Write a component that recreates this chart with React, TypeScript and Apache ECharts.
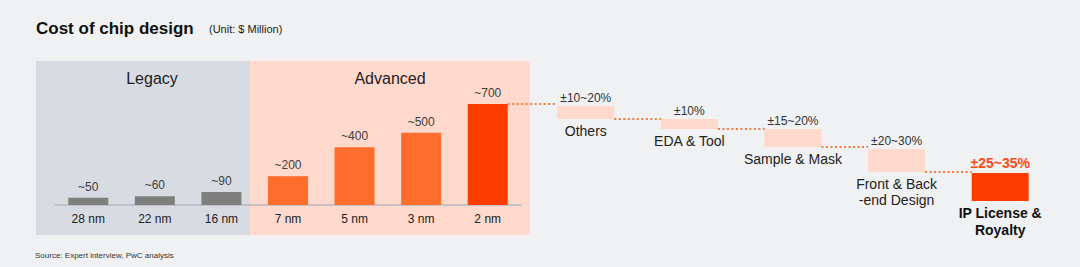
import React, { useEffect, useRef } from "react";
import * as echarts from "echarts";

// ---- data ----
const categories = ["28 nm", "22 nm", "16 nm", "7 nm", "5 nm", "3 nm", "2 nm"];
const costs = [50, 60, 90, 200, 400, 500, 700];
const costLabels = ["~50", "~60", "~90", "~200", "~400", "~500", "~700"];
const legacyCount = 3;

const wfNames = ["Others", "EDA & Tool", "Sample & Mask", "Front & Back\n-end Design", "IP License &\nRoyalty"];
const wfShares = ["±10~20%", "±10%", "±15~20%", "±20~30%", "±25~35%"];
const wfTop = [686, 596, 527, 388, 222];
const wfBottom = [596, 527, 402, 229, 28];

const title = "Cost of chip design";
const unit = "(Unit: $ Million)";
const source = "Source: Expert interview, PwC analysis";

// ---- styles ----
const BG = "#f0f1f3";
const LEGACY_BG = "#d8dbe2";
const ADV_BG = "#fed9cc";
const GRAY = "#7f7f7f";
const ORANGE = "#ff6d2d";
const RED = "#ff3c00";
const DOT = "#f47a3f";
const FONT = "'Liberation Sans', Arial, sans-serif";
const WF_BAR = 57;

export default function App() {
  const ref = useRef<HTMLDivElement>(null);
  useEffect(() => {
    if (!ref.current) return;
    const chart = echarts.init(ref.current, undefined, { renderer: "svg" });
    const last = costs.length - 1;
    const connectorLevels = [costs[last], ...wfBottom.slice(0, wfBottom.length - 1)];

    chart.setOption({
      animation: false,
      backgroundColor: BG,
      textStyle: { fontFamily: FONT },
      grid: [
        { left: 55, right: 559, top: 104, bottom: 62, containLabel: false },
        { left: 534, right: 28, top: 104, bottom: 62, containLabel: false },
      ],
      xAxis: [
        {
          type: "category",
          gridIndex: 0,
          data: categories,
          axisLine: { lineStyle: { color: "#b6bac4", width: 1.5 } },
          axisTick: { show: false },
          axisLabel: { fontSize: 12, color: "#222", margin: 8, fontFamily: FONT },
        },
        {
          type: "category",
          gridIndex: 1,
          data: wfNames,
          axisLine: { show: false },
          axisTick: { show: false },
          axisLabel: { show: false },
        },
      ],
      yAxis: [
        { type: "value", gridIndex: 0, min: 0, max: 700, show: false, splitLine: { show: false } },
        { type: "value", gridIndex: 1, min: 0, max: 700, show: false, splitLine: { show: false } },
      ],
      graphic: [
        { type: "rect", z: -10, shape: { x: 36, y: 61, width: 214, height: 174 }, style: { fill: LEGACY_BG } },
        { type: "rect", z: -10, shape: { x: 250, y: 61, width: 280, height: 174 }, style: { fill: ADV_BG } },
        {
          type: "text", x: 152, y: 78, z: 10,
          style: { text: "Legacy", fontSize: 16, fill: "#222", font: `16px ${FONT}`, textAlign: "center", textVerticalAlign: "middle" },
        },
        {
          type: "text", x: 390, y: 78, z: 10,
          style: { text: "Advanced", fontSize: 16, fill: "#222", font: `16px ${FONT}`, textAlign: "center", textVerticalAlign: "middle" },
        },
        {
          type: "text", x: 36, y: 28, z: 10,
          style: { text: title, fill: "#111", font: `bold 17px ${FONT}`, textAlign: "left", textVerticalAlign: "middle" },
        },
        {
          type: "text", x: 209, y: 29, z: 10,
          style: { text: unit, fill: "#222", font: `11px ${FONT}`, textAlign: "left", textVerticalAlign: "middle" },
        },
        {
          type: "text", x: 35, y: 255, z: 10,
          style: { text: source, fill: "#333", font: `8px ${FONT}`, textAlign: "left", textVerticalAlign: "middle" },
        },
      ],
      series: [
        {
          type: "bar",
          xAxisIndex: 0,
          yAxisIndex: 0,
          barWidth: 40,
          data: costs.map((v, i) => ({
            value: v,
            itemStyle: { color: i < legacyCount ? GRAY : i === last ? RED : ORANGE },
          })),
          label: {
            show: true,
            position: "top",
            distance: 5,
            fontSize: 12,
            color: "#404040",
            fontFamily: FONT,
            formatter: (p: any) => costLabels[p.dataIndex],
          },
        },
        {
          type: "bar",
          xAxisIndex: 1,
          yAxisIndex: 1,
          stack: "wf",
          barWidth: WF_BAR,
          itemStyle: { color: "transparent" },
          data: wfBottom.map((v, i) => ({
            value: v,
            label: i === wfBottom.length - 1 ? { fontWeight: "bold", color: "#111", lineHeight: 17 } : {},
          })),
          label: {
            show: true,
            position: "insideTop",
            distance: 4,
            fontSize: 14,
            lineHeight: 16,
            color: "#222",
            fontFamily: FONT,
            formatter: (p: any) => wfNames[p.dataIndex],
          },
        },
        {
          type: "bar",
          xAxisIndex: 1,
          yAxisIndex: 1,
          stack: "wf",
          barWidth: WF_BAR,
          data: wfTop.map((t, i) => ({
            value: t - wfBottom[i],
            itemStyle: { color: i === wfTop.length - 1 ? RED : ADV_BG },
            label:
              i === wfTop.length - 1
                ? { fontWeight: "bold", color: "#ff4a14", fontSize: 14, distance: 3 }
                : {},
          })),
          label: {
            show: true,
            position: "top",
            distance: 2,
            fontSize: 12,
            color: "#333",
            fontFamily: FONT,
            formatter: (p: any) => wfShares[p.dataIndex],
          },
        },
        {
          type: "custom",
          xAxisIndex: 1,
          yAxisIndex: 1,
          z: 5,
          data: connectorLevels.map((lv, i) => [i, lv]),
          renderItem: (params: any, api: any) => {
            const c = api.coord([api.value(0), api.value(1)]);
            const band = api.size([1, 0])[0];
            const half = WF_BAR / 2;
            const idx = api.value(0);
            const x1 = idx === 0 ? c[0] - band + half - 3 : c[0] - band + half;
            return {
              type: "line",
              shape: { x1, y1: c[1], x2: c[0] - half, y2: c[1] },
              style: { stroke: DOT, lineWidth: 2, lineDash: [2, 2.5] },
            };
          },
        },
      ],
    });
    return () => chart.dispose();
  }, []);
  return <div ref={ref} style={{ position: "absolute", left: 0, top: 0, width: 1080, height: 267 }} />;
}
